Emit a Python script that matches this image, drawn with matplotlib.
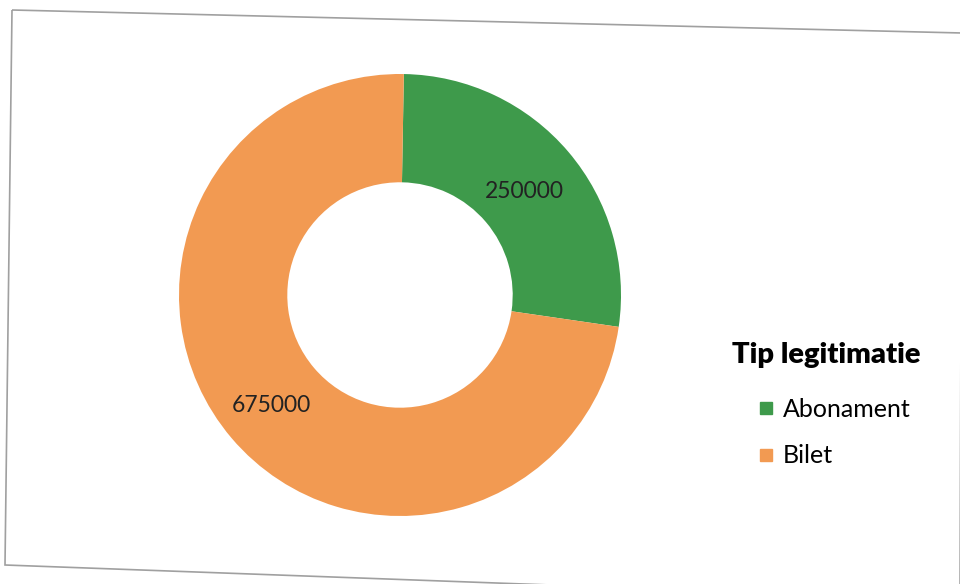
import matplotlib
matplotlib.use("Agg")
import matplotlib.pyplot as plt
from matplotlib.patches import Polygon
from matplotlib.lines import Line2D

categories = ["Abonament", "Bilet"]
values = [250000, 675000]
colors = ["#3E9A4B", "#F29A52"]
legend_title = "Tip legitimatie"

plt.rcParams['font.family'] = ['Lato', 'DejaVu Sans']

fig = plt.figure(figsize=(9.6, 5.84), dpi=100)
fig.patch.set_facecolor("white")

# scanned page frame (slightly skewed)
W, H = 960, 584
frame = [(12, 10), (962, 33), (960, 600), (5, 565)]
fig.patches.append(Polygon([(x / W, 1 - y / H) for x, y in frame], closed=True,
                           transform=fig.transFigure, fill=False,
                           edgecolor="#a0a0a0", linewidth=1.2))

ax = fig.add_axes([(400 - 221) / W, 1 - (295 + 221) / H, 442 / W, 442 / H])
wedges, _ = ax.pie(values, colors=colors, startangle=89, counterclock=False,
                   radius=1.0, wedgeprops=dict(width=0.49, edgecolor="none"))
ax.set_aspect("equal")
ax.set_xlim(-1, 1)
ax.set_ylim(-1, 1)

label_pos = [(0.565, 0.47), (-0.58, -0.5)]
for v, (x, y) in zip(values, label_pos):
    ax.text(x, y, f"{v}", ha="center", va="center", fontsize=16.5, color="#222222")

handles = [Line2D([0], [0], marker="s", linestyle="none", markersize=9,
                  markerfacecolor=c, markeredgecolor=c) for c in colors]
leg = fig.legend(handles, categories, title=legend_title,
                 loc="upper left", bbox_to_anchor=(710 / W, 1 - 320 / H),
                 frameon=False, fontsize=18, handletextpad=-0.64,
                 handlelength=2.64, labelspacing=0.95, alignment="left",
                 title_fontproperties=dict(weight="heavy", size=21))
leg._legend_box.sep = 21

fig.savefig("out.png", dpi=100, facecolor="white")
